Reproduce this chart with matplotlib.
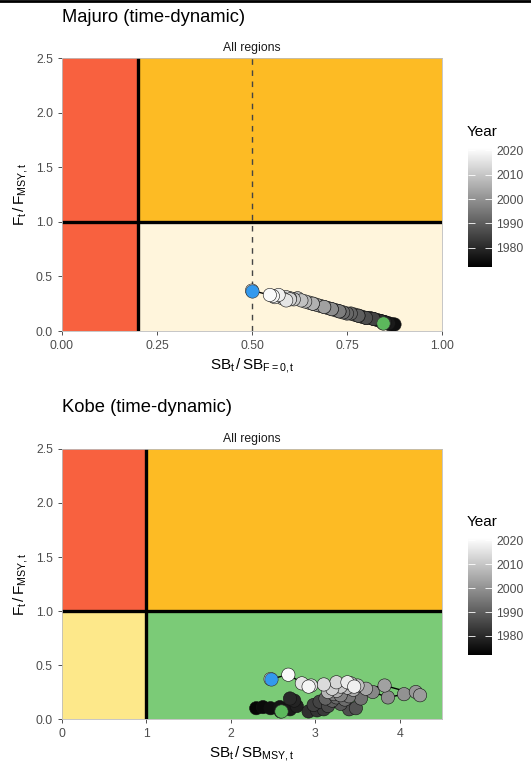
import matplotlib
matplotlib.use("Agg")
import matplotlib.pyplot as plt
from matplotlib.patches import Rectangle
from matplotlib.lines import Line2D
from matplotlib.colors import Normalize
from matplotlib.cm import ScalarMappable
import numpy as np

plt.rcParams['font.family'] = ['Liberation Sans', 'DejaVu Sans']
plt.rcParams['mathtext.fontset'] = 'custom'
plt.rcParams['mathtext.rm'] = 'Liberation Sans'
plt.rcParams['mathtext.it'] = 'Liberation Sans:italic'

# ---------------- data ----------------
years = list(range(1972, 2022))

majuro_sb = [0.845, 0.870, 0.860, 0.875, 0.850, 0.860, 0.840, 0.850, 0.830, 0.840,
             0.820, 0.810, 0.800, 0.820, 0.790, 0.800, 0.780, 0.770, 0.780, 0.760,
             0.750, 0.740, 0.730, 0.720, 0.730, 0.710, 0.700, 0.710, 0.690, 0.680,
             0.670, 0.690, 0.660, 0.650, 0.660, 0.640, 0.620, 0.630, 0.610, 0.600,
             0.590, 0.600, 0.580, 0.570, 0.590, 0.560, 0.570, 0.555, 0.547, 0.500]
majuro_f = [0.070, 0.060, 0.065, 0.060, 0.080, 0.070, 0.090, 0.080, 0.100, 0.090,
            0.110, 0.120, 0.120, 0.110, 0.130, 0.120, 0.140, 0.150, 0.140, 0.160,
            0.160, 0.170, 0.180, 0.190, 0.180, 0.200, 0.210, 0.200, 0.220, 0.230,
            0.240, 0.220, 0.250, 0.260, 0.250, 0.270, 0.300, 0.280, 0.290, 0.300,
            0.310, 0.290, 0.300, 0.320, 0.280, 0.310, 0.330, 0.320, 0.330, 0.370]

kobe_sb = [2.59, 2.30, 2.38, 2.47, 2.58, 2.70, 2.78, 2.75, 2.70, 2.92,
           3.02, 3.10, 2.98, 3.05, 3.15, 3.40, 3.48, 3.30, 3.20, 3.12,
           3.25, 3.35, 3.54, 3.40, 3.22, 3.30, 3.68, 3.86, 4.05, 4.19,
           4.24, 3.82, 3.60, 3.45, 3.25, 3.15, 3.38, 3.50, 3.42, 3.30,
           3.20, 3.25, 3.10, 2.95, 2.84, 3.38, 3.46, 2.92, 2.68, 2.47]
kobe_f = [0.07, 0.10, 0.11, 0.10, 0.11, 0.09, 0.12, 0.17, 0.19, 0.07,
          0.08, 0.09, 0.13, 0.16, 0.12, 0.09, 0.10, 0.14, 0.17, 0.19,
          0.20, 0.18, 0.19, 0.21, 0.23, 0.22, 0.25, 0.20, 0.23, 0.25,
          0.22, 0.31, 0.28, 0.27, 0.26, 0.25, 0.29, 0.31, 0.33, 0.30,
          0.28, 0.34, 0.32, 0.31, 0.33, 0.34, 0.30, 0.30, 0.41, 0.37]

cbar_ticks = [1980, 1990, 2000, 2010, 2020]

# ---------------- style ----------------
C_RED = "#F8613F"
C_ORANGE = "#FDBB24"
C_CREAM = "#FFF5DC"
C_YELLOW = "#FDE88A"
C_GREEN = "#7BCB77"
C_FIRST = "#5CB85C"
C_LAST = "#3399EE"
TICK_COL = "#4D4D4D"
PT_SIZE = 92

W, H = 531, 767
fig = plt.figure(figsize=(W / 100, H / 100), dpi=100)
fig.add_artist(Line2D([0, 1], [0.999, 0.999], color="black", lw=2, transform=fig.transFigure))

norm = Normalize(vmin=min(years), vmax=max(years))
cmap = plt.get_cmap("gray")


def box(l, t, r, b):
    return [l / W, 1 - b / H, (r - l) / W, (b - t) / H]


def style_axes(ax, xlim, xticks, xticklabels, ylim, yticks, yticklabels):
    ax.set_xlim(*xlim)
    ax.set_ylim(*ylim)
    ax.set_xticks(xticks)
    ax.set_xticklabels(xticklabels)
    ax.set_yticks(yticks)
    ax.set_yticklabels(yticklabels)
    ax.tick_params(colors="#333333", labelcolor=TICK_COL, labelsize=8.8, length=3, width=0.6)
    for s in ax.spines.values():
        s.set_color("#BDBDBD")
        s.set_linewidth(0.6)


def zone(ax, x0, x1, y0, y1, color):
    ax.add_patch(Rectangle((x0, y0), x1 - x0, y1 - y0, facecolor=color, edgecolor="none", zorder=0))


def points(ax, x, y, yrs):
    ax.plot(x, y, color="black", lw=1.0, zorder=2)
    ax.scatter(x, y, c=yrs, cmap=cmap, norm=norm, s=PT_SIZE, edgecolors="#111111", linewidths=0.4, zorder=3)
    ax.scatter([x[0]], [y[0]], c=C_FIRST, s=PT_SIZE, edgecolors="#333333", linewidths=0.4, zorder=4)
    ax.scatter([x[-1]], [y[-1]], c=C_LAST, s=PT_SIZE, edgecolors="#333333", linewidths=0.4, zorder=4)


def colorbar(cax, title_xy):
    sm = ScalarMappable(norm=norm, cmap=cmap)
    cb = fig.colorbar(sm, cax=cax, ticks=cbar_ticks)
    cb.outline.set_visible(False)
    cax.tick_params(direction="in", color="white", length=4.8, width=0.6,
                    left=True, right=True, labelleft=False, labelright=True,
                    labelsize=8.8, labelcolor=TICK_COL, pad=3)
    fig.text(title_xy[0] / W, 1 - title_xy[1] / H, "Year", fontsize=11, ha="left", va="center")


# ---------------- Majuro ----------------
ax1 = fig.add_axes(box(62, 58, 442, 331))
zone(ax1, 0, 0.2, 0, 2.5, C_RED)
zone(ax1, 0.2, 1.0, 1.0, 2.5, C_ORANGE)
zone(ax1, 0.2, 1.0, 0, 1.0, C_CREAM)
ax1.axvline(0.2, color="black", lw=2.4, zorder=1)
ax1.axhline(1.0, color="black", lw=2.4, zorder=1)
ax1.axvline(0.5, color="#444444", lw=1.0, ls=(0, (4, 4)), zorder=1)
points(ax1, majuro_sb, majuro_f, years)
style_axes(ax1, (0, 1), [0, 0.25, 0.5, 0.75, 1.0], ["0.00", "0.25", "0.50", "0.75", "1.00"],
           (0, 2.5), [0, 0.5, 1.0, 1.5, 2.0, 2.5], ["0.0", "0.5", "1.0", "1.5", "2.0", "2.5"])
ax1.set_xlabel(r"$\mathrm{SB_t\,/\,SB_{F=0,t}}$", fontsize=11, labelpad=3)
ax1.set_ylabel(r"$\mathrm{F_t\,/\,F_{MSY,t}}$", fontsize=11, labelpad=4)
ax1.set_title("All regions", fontsize=8.8, color="#1A1A1A", pad=5)
fig.text(62 / W, 1 - 18 / H, "Majuro (time-dynamic)", fontsize=13.2, ha="left", va="center")

cax1 = fig.add_axes(box(468, 148, 492, 267))
colorbar(cax1, (467, 132))

# ---------------- Kobe ----------------
ax2 = fig.add_axes(box(62, 449, 442, 719))
zone(ax2, 0, 1.0, 1.0, 2.5, C_RED)
zone(ax2, 1.0, 4.5, 1.0, 2.5, C_ORANGE)
zone(ax2, 0, 1.0, 0, 1.0, C_YELLOW)
zone(ax2, 1.0, 4.5, 0, 1.0, C_GREEN)
ax2.axvline(1.0, color="black", lw=2.4, zorder=1)
ax2.axhline(1.0, color="black", lw=2.4, zorder=1)
points(ax2, kobe_sb, kobe_f, years)
style_axes(ax2, (0, 4.5), [0, 1, 2, 3, 4], ["0", "1", "2", "3", "4"],
           (0, 2.5), [0, 0.5, 1.0, 1.5, 2.0, 2.5], ["0.0", "0.5", "1.0", "1.5", "2.0", "2.5"])
ax2.set_xlabel(r"$\mathrm{SB_t\,/\,SB_{MSY,t}}$", fontsize=11, labelpad=3)
ax2.set_ylabel(r"$\mathrm{F_t\,/\,F_{MSY,t}}$", fontsize=11, labelpad=4)
ax2.set_title("All regions", fontsize=8.8, color="#1A1A1A", pad=5)
fig.text(62 / W, 1 - 407 / H, "Kobe (time-dynamic)", fontsize=13.2, ha="left", va="center")

cax2 = fig.add_axes(box(468, 538, 492, 655))
colorbar(cax2, (467, 522))

fig.savefig("out.png", dpi=100)
